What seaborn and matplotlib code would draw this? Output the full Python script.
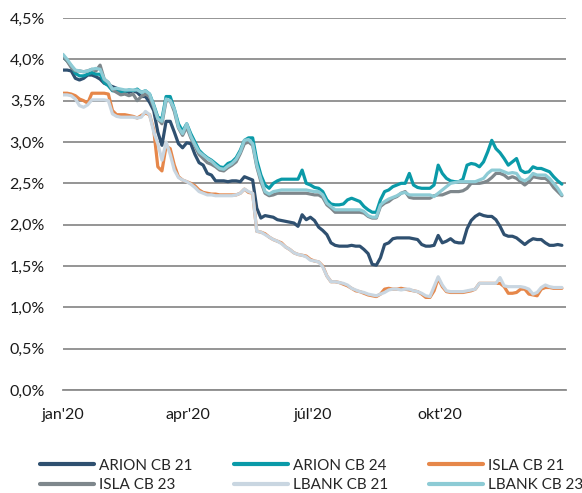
import numpy as np
import pandas as pd
import matplotlib
matplotlib.use("Agg")
import matplotlib.pyplot as plt
from matplotlib.ticker import FuncFormatter
import seaborn as sns

# observation dates (every third day of 2020)
dates = pd.date_range("2020-01-01", periods=122, freq="3D")

arion_cb21 = [3.87, 3.87, 3.86, 3.77, 3.75, 3.77, 3.81, 3.81, 3.79, 3.76,
              3.71, 3.69, 3.67, 3.65, 3.62, 3.62, 3.60, 3.62, 3.60, 3.55,
              3.55, 3.48, 3.38, 3.12, 2.96, 3.25, 3.25, 3.12, 2.98, 2.93,
              2.99, 2.98, 2.85, 2.75, 2.72, 2.62, 2.60, 2.53, 2.53, 2.53,
              2.52, 2.53, 2.53, 2.52, 2.58, 2.56, 2.54, 2.20, 2.08, 2.11,
              2.10, 2.09, 2.06, 2.05, 2.04, 2.03, 2.02, 1.98, 2.12, 2.06,
              2.09, 2.05, 1.97, 1.93, 1.88, 1.78, 1.75, 1.74, 1.74, 1.74,
              1.75, 1.74, 1.74, 1.70, 1.65, 1.52, 1.51, 1.60, 1.76, 1.78,
              1.83, 1.84, 1.84, 1.84, 1.84, 1.83, 1.82, 1.76, 1.74, 1.74,
              1.75, 1.87, 1.78, 1.80, 1.83, 1.79, 1.78, 1.78, 1.95, 2.05,
              2.10, 2.13, 2.11, 2.10, 2.10, 2.06, 1.98, 1.88, 1.86, 1.86,
              1.84, 1.80, 1.76, 1.80, 1.83, 1.82, 1.82, 1.78, 1.75, 1.75,
              1.76, 1.75]

arion_cb24 = [4.03, 3.98, 3.92, 3.83, 3.80, 3.80, 3.82, 3.84, 3.82, 3.82,
              3.72, 3.68, 3.62, 3.62, 3.60, 3.61, 3.63, 3.62, 3.64, 3.60,
              3.62, 3.58, 3.45, 3.30, 3.28, 3.55, 3.55, 3.40, 3.22, 3.13,
              3.22, 3.10, 3.00, 2.90, 2.85, 2.81, 2.78, 2.74, 2.70, 2.69,
              2.74, 2.76, 2.81, 2.90, 3.02, 3.05, 3.05, 2.78, 2.60, 2.48,
              2.44, 2.50, 2.53, 2.55, 2.55, 2.55, 2.55, 2.55, 2.66, 2.50,
              2.48, 2.45, 2.44, 2.40, 2.30, 2.25, 2.24, 2.24, 2.25, 2.30,
              2.32, 2.30, 2.28, 2.22, 2.18, 2.15, 2.15, 2.30, 2.40, 2.42,
              2.46, 2.48, 2.50, 2.50, 2.62, 2.48, 2.45, 2.44, 2.44, 2.44,
              2.48, 2.72, 2.62, 2.56, 2.53, 2.52, 2.52, 2.55, 2.72, 2.74,
              2.73, 2.70, 2.76, 2.88, 3.02, 2.92, 2.87, 2.80, 2.72, 2.76,
              2.80, 2.66, 2.63, 2.64, 2.70, 2.68, 2.68, 2.66, 2.64, 2.58,
              2.53, 2.49]

isla_cb21 = [3.59, 3.59, 3.58, 3.56, 3.52, 3.50, 3.47, 3.59, 3.59, 3.59,
             3.59, 3.58, 3.38, 3.33, 3.33, 3.33, 3.32, 3.31, 3.29, 3.32,
             3.35, 3.33, 3.15, 2.70, 2.65, 2.95, 2.92, 2.72, 2.58, 2.54,
             2.52, 2.50, 2.47, 2.42, 2.39, 2.38, 2.37, 2.37, 2.36, 2.36,
             2.36, 2.36, 2.36, 2.38, 2.43, 2.39, 2.38, 1.92, 1.91, 1.89,
             1.85, 1.82, 1.80, 1.78, 1.73, 1.70, 1.66, 1.64, 1.63, 1.62,
             1.58, 1.56, 1.55, 1.50, 1.38, 1.31, 1.31, 1.30, 1.28, 1.26,
             1.23, 1.20, 1.19, 1.17, 1.15, 1.14, 1.13, 1.16, 1.22, 1.23,
             1.22, 1.22, 1.23, 1.22, 1.21, 1.20, 1.19, 1.16, 1.12, 1.12,
             1.20, 1.35, 1.25, 1.19, 1.18, 1.18, 1.18, 1.18, 1.19, 1.20,
             1.22, 1.29, 1.29, 1.29, 1.29, 1.29, 1.29, 1.25, 1.17, 1.17,
             1.18, 1.22, 1.22, 1.16, 1.15, 1.14, 1.22, 1.24, 1.24, 1.23,
             1.23, 1.23]

isla_cb23 = [4.03, 3.98, 3.90, 3.86, 3.86, 3.85, 3.86, 3.88, 3.86, 3.93,
             3.76, 3.72, 3.63, 3.60, 3.57, 3.58, 3.56, 3.58, 3.50, 3.55,
             3.58, 3.55, 3.42, 3.28, 3.22, 3.50, 3.50, 3.37, 3.17, 3.08,
             3.18, 3.05, 2.95, 2.85, 2.80, 2.75, 2.73, 2.70, 2.66, 2.65,
             2.69, 2.72, 2.76, 2.86, 2.98, 3.00, 2.96, 2.70, 2.52, 2.38,
             2.35, 2.36, 2.38, 2.38, 2.38, 2.38, 2.38, 2.38, 2.38, 2.38,
             2.37, 2.36, 2.36, 2.33, 2.24, 2.20, 2.15, 2.15, 2.15, 2.15,
             2.15, 2.15, 2.15, 2.14, 2.10, 2.08, 2.08, 2.22, 2.26, 2.28,
             2.32, 2.34, 2.38, 2.40, 2.33, 2.32, 2.32, 2.32, 2.32, 2.32,
             2.35, 2.36, 2.36, 2.38, 2.40, 2.40, 2.40, 2.41, 2.44, 2.50,
             2.50, 2.50, 2.51, 2.53, 2.57, 2.62, 2.62, 2.60, 2.56, 2.58,
             2.56, 2.52, 2.48, 2.52, 2.58, 2.57, 2.56, 2.56, 2.52, 2.45,
             2.40, 2.35]

lbank_cb21 = [3.57, 3.57, 3.56, 3.52, 3.44, 3.42, 3.45, 3.51, 3.51, 3.51,
              3.51, 3.50, 3.34, 3.31, 3.30, 3.30, 3.30, 3.30, 3.29, 3.30,
              3.37, 3.33, 3.12, 2.98, 2.78, 3.00, 2.85, 2.66, 2.57, 2.54,
              2.52, 2.49, 2.45, 2.40, 2.38, 2.36, 2.36, 2.35, 2.35, 2.35,
              2.35, 2.35, 2.36, 2.38, 2.43, 2.40, 2.38, 1.92, 1.91, 1.88,
              1.85, 1.82, 1.80, 1.77, 1.73, 1.70, 1.66, 1.64, 1.63, 1.61,
              1.57, 1.56, 1.55, 1.49, 1.38, 1.31, 1.31, 1.30, 1.29, 1.27,
              1.23, 1.21, 1.19, 1.18, 1.16, 1.15, 1.14, 1.16, 1.18, 1.21,
              1.22, 1.22, 1.21, 1.22, 1.22, 1.20, 1.19, 1.17, 1.14, 1.13,
              1.25, 1.37, 1.27, 1.20, 1.19, 1.19, 1.19, 1.19, 1.20, 1.21,
              1.22, 1.29, 1.29, 1.29, 1.29, 1.29, 1.36, 1.26, 1.25, 1.25,
              1.25, 1.25, 1.24, 1.22, 1.16, 1.18, 1.24, 1.27, 1.25, 1.24,
              1.24, 1.24]

lbank_cb23 = [4.06, 4.00, 3.93, 3.87, 3.86, 3.85, 3.86, 3.88, 3.89, 3.88,
              3.76, 3.72, 3.64, 3.65, 3.64, 3.63, 3.63, 3.63, 3.63, 3.60,
              3.62, 3.58, 3.44, 3.28, 3.25, 3.52, 3.50, 3.40, 3.18, 3.10,
              3.22, 3.07, 2.97, 2.88, 2.84, 2.80, 2.77, 2.72, 2.68, 2.67,
              2.71, 2.74, 2.79, 2.88, 3.02, 3.03, 2.98, 2.72, 2.55, 2.40,
              2.37, 2.40, 2.41, 2.42, 2.42, 2.42, 2.42, 2.42, 2.42, 2.42,
              2.41, 2.40, 2.40, 2.36, 2.26, 2.22, 2.18, 2.18, 2.18, 2.18,
              2.18, 2.18, 2.18, 2.16, 2.11, 2.09, 2.09, 2.24, 2.28, 2.31,
              2.33, 2.35, 2.38, 2.39, 2.36, 2.36, 2.36, 2.36, 2.36, 2.36,
              2.34, 2.38, 2.42, 2.46, 2.50, 2.51, 2.52, 2.52, 2.52, 2.52,
              2.52, 2.54, 2.56, 2.62, 2.66, 2.66, 2.66, 2.64, 2.62, 2.63,
              2.62, 2.55, 2.53, 2.56, 2.62, 2.60, 2.60, 2.60, 2.56, 2.50,
              2.44, 2.36]

series_names = ["ARION CB 21", "ARION CB 24", "ISLA CB 21",
                "ISLA CB 23", "LBANK CB 21", "LBANK CB 23"]
series_values = [arion_cb21, arion_cb24, isla_cb21, isla_cb23, lbank_cb21, lbank_cb23]
colors = ["#2f5070", "#0a9aa8", "#e6874a", "#7e878c", "#c9d6e1", "#8dcbd5"]

tick_dates = ["2020-01-01", "2020-04-01", "2020-07-01", "2020-10-01", "2021-01-01"]
tick_labels = ["jan'20", "apr'20", "júl'20", "okt'20", ""]
y_ticks = [0.0, 0.5, 1.0, 1.5, 2.0, 2.5, 3.0, 3.5, 4.0, 4.5]

frames = []
for name, vals in zip(series_names, series_values):
    frames.append(pd.DataFrame({"date": dates, "value": vals, "series": name}))
df = pd.concat(frames, ignore_index=True)

sns.set_theme(style="white")
plt.rcParams["font.family"] = ["Lato", "DejaVu Sans"]

fig = plt.figure(figsize=(5.82, 4.93), dpi=100)
ax = fig.add_axes([63 / 582, 1 - 390 / 493, (566 - 63) / 582, (390 - 18) / 493])

sns.lineplot(data=df, x="date", y="value", hue="series", hue_order=series_names,
             palette=colors, linewidth=2.3, ax=ax, legend=True)

ax.set_ylim(0, 4.5)
ax.set_xlim(pd.Timestamp("2020-01-01"), pd.Timestamp("2021-01-01"))
ax.set_yticks(y_ticks)
ax.yaxis.set_major_formatter(FuncFormatter(lambda v, p: f"{v:.1f}%".replace(".", ",")))
ax.set_xticks(pd.to_datetime(tick_dates))
ax.set_xticklabels(tick_labels)
ax.grid(axis="y", color="#8c8c8c", linewidth=1.3)
ax.set_axisbelow(True)
for s in ["top", "right", "left"]:
    ax.spines[s].set_visible(False)
ax.spines["bottom"].set_color("#8c8c8c")
ax.spines["bottom"].set_linewidth(1.3)
ax.tick_params(axis="x", direction="out", length=5, width=1.3, color="#8c8c8c",
               labelsize=11.5, labelcolor="#1a1a1a", pad=8)
ax.tick_params(axis="y", length=0, labelsize=11.5, labelcolor="#1a1a1a", pad=13)
ax.set_xlabel("")
ax.set_ylabel("")

handles, labels = ax.get_legend_handles_labels()
ax.get_legend().remove()
for h in handles:
    h.set_linewidth(3)

# one small legend per column: (row 1, row 2) entries
columns = [(0, 3), (1, 4), (2, 5)]
col_x = [26, 220, 415]
for (i, j), x0 in zip(columns, col_x):
    fig.legend([handles[i], handles[j]], [labels[i], labels[j]],
               loc="upper left", bbox_to_anchor=(x0 / 582, 1 - 445 / 493),
               bbox_transform=fig.transFigure,
               ncol=1, frameon=False, fontsize=11, handlelength=3.55,
               handletextpad=0.3, labelspacing=0.35)

fig.savefig("out.png", dpi=100)
